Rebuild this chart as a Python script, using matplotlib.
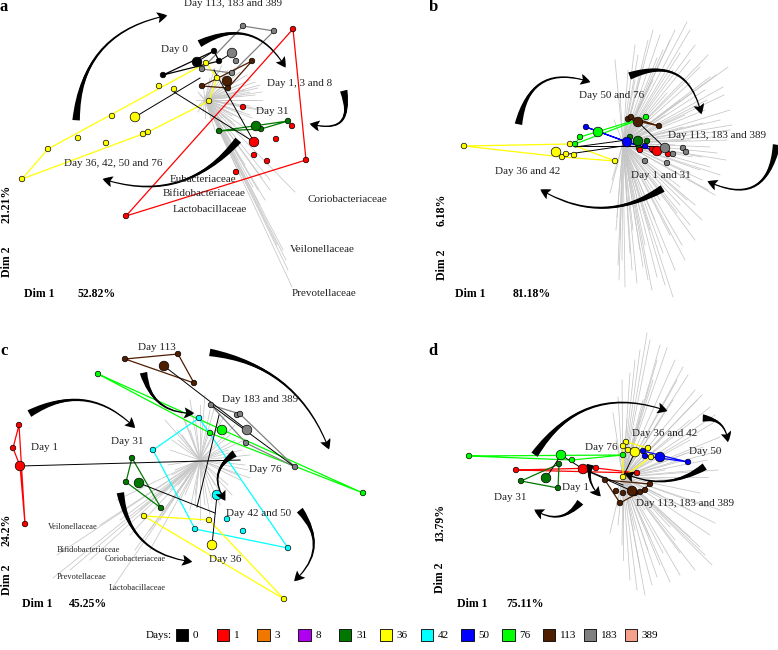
import numpy as np
import matplotlib.pyplot as plt
from matplotlib.patches import FancyArrowPatch

plt.rcParams['font.family'] = ['Liberation Serif', 'DejaVu Serif']

days = ['0', '1', '3', '8', '31', '36', '42', '50', '76', '113', '183', '389']
day_colors = ['#000000', '#ff0000', '#f07800', '#b000f0', '#007800', '#ffff00',
              '#00ffff', '#0000ff', '#00ff00', '#4d1e00', '#808080', '#f4a08a']
col = dict(zip(days, day_colors))

# ---------------- panel a ----------------
a_center = (205, 100)
a_loadings = [(295, 192), (292, 287), (277, 245), (283, 250), (253, 187), (258, 190),
              (262, 178), (245, 165), (238, 160), (270, 180), (250, 140), (240, 175),
              (255, 95), (258, 88), (250, 80), (240, 72), (228, 70), (218, 72), (210, 78),
              (203, 85), (200, 95), (199, 105), (203, 112), (212, 116), (222, 118),
              (232, 116), (242, 112), (250, 106), (256, 100), (262, 92), (245, 90),
              (238, 85), (232, 80), (225, 88), (236, 104), (228, 112), (244, 120),
              (235, 125), (226, 128), (218, 124), (260, 85), (252, 118), (230, 140),
              (222, 135), (248, 130), (215, 130), (215, 68), (222, 65), (235, 68), (247, 75),
              (255, 82), (262, 100), (258, 110), (250, 115), (240, 118), (232, 122),
              (222, 122), (212, 120), (205, 118), (198, 112), (196, 100), (198, 92),
              (212, 88), (220, 95), (230, 100), (242, 96), (250, 92), (265, 110), (270, 190),
              (286, 260), (288, 270), (265, 200), (260, 205)]
a_points = [('0', 197, 62, 1), ('0', 214, 51, 0), ('0', 219, 61, 0), ('0', 163, 75, 0),
            ('183', 232, 53, 1), ('183', 243, 26, 0), ('183', 274, 31, 0), ('183', 236, 61, 0),
            ('183', 202, 69, 0), ('183', 232, 73, 0),
            ('113', 227, 81, 1), ('113', 252, 61, 0), ('113', 202, 86, 0), ('113', 228, 88, 0),
            ('36', 135, 117, 1), ('36', 206, 63, 0), ('36', 217, 78, 0), ('36', 209, 101, 0),
            ('36', 159, 86, 0), ('36', 174, 89, 0), ('36', 112, 116, 0), ('36', 78, 138, 0),
            ('36', 106, 143, 0), ('36', 143, 134, 0), ('36', 148, 132, 0), ('36', 48, 149, 0),
            ('36', 22, 179, 0),
            ('1', 254, 142, 1), ('1', 243, 107, 0), ('1', 292, 126, 0), ('1', 276, 139, 0),
            ('1', 254, 155, 0), ('1', 267, 161, 0), ('1', 236, 172, 0), ('1', 293, 29, 0),
            ('1', 306, 160, 0), ('1', 126, 216, 0),
            ('31', 256, 126, 1), ('31', 288, 121, 0), ('31', 261, 129, 0), ('31', 219, 131, 0)]
a_hulls = [('36', [(22, 179), (48, 149), (206, 63), (217, 78), (209, 101), (148, 132)]),
           ('1', [(293, 29), (306, 160), (126, 216)]),
           ('183', [(202, 69), (243, 26), (274, 31), (232, 73)]),
           ('0', [(163, 75), (214, 51), (219, 61)]),
           ('113', [(202, 86), (252, 61), (228, 88)]),
           ('31', [(219, 131), (288, 121), (261, 129)])]
a_links = [((135, 117), (200, 78)), ((174, 92), (254, 142)), ((214, 70), (254, 142)),
           ((197, 62), (214, 51)), ((232, 53), (219, 61))]
a_arrows = [((76, 123), (170, 15), -0.4), ((197, 45), (287, 70), -0.5),
            ((343, 88), (307, 123), -0.9), ((240, 138), (100, 178), -0.35)]
a_texts = [('Day 113, 183 and 389', 233, 3, 8), ('Day 0', 174, 49, 8),
           ('Day 1, 3 and 8', 300, 84, 8), ('Day 31', 272, 111, 8),
           ('Day 36, 42, 50 and 76', 113, 163, 8), ('Eubacteriaceae', 203, 179, 8),
           ('Bifidobacteriaceae', 204, 194, 8), ('Lactobacillaceae', 210, 210, 8),
           ('Coriobacteriaceae', 347, 200, 8), ('Veilonellaceae', 322, 250, 8),
           ('Prevotellaceae', 324, 293, 8)]
a_dims = [('21.21%', 7, 204, 90), ('Dim 2', 7, 262, 90), ('Dim 1', 39, 294, 0), ('52.82%', 97, 294, 0)]

# ---------------- panel b ----------------
b_center = (233, 143)
b_loadings = [(297, 22), (245, 45), (253, 67), (267, 58), (290, 53), (310, 67), (338, 67),
              (320, 77), (333, 87), (300, 83), (283, 70), (273, 50), (263, 80), (317, 100),
              (340, 110), (330, 120), (313, 123), (323, 137), (337, 140), (327, 153),
              (312, 157), (320, 167), (300, 173), (312, 180), (290, 187), (297, 200),
              (312, 220), (287, 213), (283, 297), (273, 253), (267, 277), (253, 267),
              (247, 283), (235, 287), (240, 253), (230, 240), (220, 193), (227, 217),
              (245, 80), (257, 90), (290, 100), (277, 93), (293, 127), (320, 147),
              (302, 157), (263, 30), (280, 40), (305, 45), (225, 60), (305, 240),
              (295, 260), (260, 230), (250, 210), (270, 200), (280, 235), (285, 30),
              (315, 90), (325, 195), (262, 290), (242, 270), (275, 115), (300, 140),
              (300, 30), (318, 55), (326, 75), (334, 95), (342, 125), (336, 160), (330, 175),
              (318, 190), (305, 205), (300, 225), (292, 245), (285, 270), (275, 285),
              (258, 280), (250, 250), (243, 230), (238, 210), (232, 260), (229, 280),
              (248, 55), (258, 40), (270, 35), (300, 60), (315, 110), (340, 130), (305, 130),
              (295, 115), (285, 145), (310, 170), (290, 205), (265, 220), (255, 245),
              (228, 265), (226, 230), (222, 180), (224, 120), (230, 95), (238, 70)]
b_points = [('36', 166, 152, 1), ('36', 74, 146, 0), ('36', 180, 144, 0), ('36', 172, 157, 0),
            ('36', 176, 154, 0), ('36', 184, 155, 0), ('36', 225, 161, 0),
            ('76', 208, 132, 1), ('76', 190, 137, 0), ('76', 185, 144, 0), ('76', 256, 117, 0),
            ('50', 237, 142, 1), ('50', 196, 127, 0), ('50', 255, 146, 0), ('50', 263, 150, 0),
            ('31', 248, 141, 1), ('31', 240, 137, 0), ('31', 257, 141, 0), ('31', 249, 148, 0),
            ('113', 248, 122, 1), ('113', 238, 119, 0), ('113', 241, 117, 0), ('113', 269, 126, 0),
            ('1', 267, 151, 1), ('1', 250, 150, 0), ('1', 278, 154, 0), ('1', 262, 149, 0),
            ('183', 275, 148, 1), ('183', 293, 148, 0), ('183', 296, 152, 0), ('183', 283, 154, 0),
            ('183', 255, 161, 0), ('183', 277, 163, 0)]
b_hulls = [('36', [(74, 146), (180, 144), (225, 161), (172, 157)]),
           ('76', [(185, 144), (256, 117), (190, 137)]),
           ('50', [(196, 127), (237, 142), (263, 150), (237, 142)]),
           ('113', [(238, 119), (269, 126), (241, 117)])]
b_links = [((185, 147), (237, 140)), ((172, 155), (240, 145)), ((184, 146), (267, 146)),
           ((248, 122), (275, 148))]
b_arrows = [((128, 127), (203, 83), -0.6), ((237, 77), (312, 117), -0.6),
            ((387, 142), (315, 180), -0.7), ((275, 187), (148, 188), -0.32)]
b_texts = [('Day 50 and 76', 222, 96, 8), ('Day 113, 183 and 389', 327, 135, 8),
           ('Day 36 and 42', 138, 172, 8), ('Day 1 and 31', 271, 176, 8)]
b_dims = [('6.18%', 52, 210, 90), ('Dim 2', 52, 265, 90), ('Dim 1', 80, 294, 0), ('81.18%', 142, 294, 0)]

# ---------------- panel c ----------------
c_center = (200, 140)
c_loadings = [(53, 258), (57, 235), (117, 180), (111, 270), (100, 205), (150, 230),
              (120, 200), (165, 100), (177, 110), (180, 90), (190, 80), (205, 75),
              (215, 85), (225, 95), (235, 105), (245, 120), (250, 135), (248, 150),
              (240, 160), (250, 158), (232, 175), (220, 185), (210, 195), (200, 200),
              (190, 190), (180, 180), (170, 170), (178, 120), (185, 100), (200, 85),
              (210, 110), (228, 130), (215, 165), (195, 175), (240, 140), (230, 115),
              (185, 160), (175, 150), (170, 130), (160, 175), (140, 190), (130, 215),
              (190, 110), (195, 95), (210, 90), (220, 100), (235, 120), (242, 130),
              (245, 145), (238, 155), (228, 165), (222, 175), (212, 180), (205, 185),
              (195, 185), (185, 175), (178, 165), (172, 155), (168, 145), (172, 120),
              (182, 115), (160, 200), (150, 210), (135, 230), (90, 240), (70, 250)]
c_points = [('113', 164, 46, 1), ('113', 125, 39, 0), ('113', 178, 34, 0), ('113', 194, 63, 0),
            ('76', 222, 110, 1), ('76', 98, 54, 0), ('76', 210, 113, 0), ('76', 363, 173, 0),
            ('183', 247, 110, 1), ('183', 211, 85, 0), ('183', 237, 95, 0), ('183', 240, 94, 0),
            ('183', 246, 123, 0), ('183', 295, 147, 0),
            ('42', 217, 175, 1), ('42', 199, 98, 0), ('42', 153, 130, 0), ('42', 227, 199, 0),
            ('42', 243, 211, 0), ('42', 195, 209, 0), ('42', 288, 228, 0),
            ('1', 20, 146, 1), ('1', 19, 105, 0), ('1', 13, 128, 0), ('1', 25, 204, 0),
            ('31', 139, 163, 1), ('31', 132, 138, 0), ('31', 126, 162, 0), ('31', 161, 188, 0),
            ('36', 212, 225, 1), ('36', 144, 196, 0), ('36', 209, 200, 0), ('36', 284, 279, 0)]
c_hulls = [('113', [(125, 39), (178, 34), (194, 63)]),
           ('76', [(98, 54), (363, 173), (210, 113)]),
           ('183', [(211, 85), (240, 94), (295, 147), (246, 123)]),
           ('42', [(153, 130), (199, 98), (288, 228), (195, 209)]),
           ('1', [(19, 105), (13, 128), (20, 146), (25, 204)]),
           ('31', [(132, 138), (161, 188), (126, 162)]),
           ('36', [(144, 196), (209, 200), (284, 279)])]
c_links = [((20, 146), (240, 140)), ((139, 163), (215, 193)), ((164, 46), (247, 110)),
           ((219, 95), (197, 187)), ((211, 85), (295, 147)), ((212, 225), (217, 175))]
c_arrows = [((27, 95), (137, 110), -0.4), ((143, 50), (197, 93), 0.45),
            ((207, 32), (330, 132), -0.3), ((237, 132), (227, 183), 0.55),
            ((120, 170), (195, 242), 0.4), ((298, 188), (292, 263), -0.5)]
c_texts = [('Day 113', 157, 27, 8), ('Day 183 and 389', 260, 80, 8), ('Day 1', 45, 127, 8),
           ('Day 31', 127, 121, 8), ('Day 76', 265, 150, 8), ('Day 42 and 50', 259, 193, 8),
           ('Day 36', 225, 239, 8), ('Veilonellaceae', 73, 207, 6),
           ('Bifidobacteriaceae', 88, 230, 6), ('Coriobacteriaceae', 135, 239, 6),
           ('Prevotellaceae', 82, 257, 6), ('Lactobacillaceae', 137, 268, 6)]
c_dims = [('24.2%', 7, 210, 90), ('Dim 2', 7, 260, 90), ('Dim 1', 37, 284, 0), ('45.25%', 88, 284, 0)]

# ---------------- panel d ----------------
d_center = (233, 157)
d_loadings = [(257, 13), (277, 28), (228, 77), (293, 47), (305, 70), (320, 87), (328, 100),
              (330, 117), (325, 203), (322, 245), (247, 270), (233, 240), (267, 257),
              (290, 233), (310, 227), (287, 187), (317, 187), (240, 53), (263, 60),
              (283, 80), (253, 80), (300, 100), (313, 127), (318, 157), (310, 173),
              (227, 187), (220, 213), (233, 200), (260, 217), (280, 207), (270, 100),
              (297, 133), (237, 100), (223, 93), (250, 30), (267, 40), (287, 60),
              (307, 80), (317, 140), (250, 247), (273, 233), (300, 217), (245, 120),
              (290, 160), (255, 190), (270, 175), (260, 20), (270, 25), (285, 40),
              (298, 55), (312, 75), (325, 95), (332, 130), (328, 150), (330, 190),
              (320, 215), (315, 235), (305, 250), (290, 255), (280, 262), (262, 265),
              (255, 275), (240, 260), (232, 225), (228, 205), (225, 175), (226, 120),
              (232, 60), (245, 40), (300, 120), (308, 150), (300, 190), (285, 220),
              (270, 245), (258, 230), (245, 210), (290, 140), (275, 150), (265, 130),
              (280, 110), (250, 100), (240, 140)]
d_points = [('76', 171, 135, 1), ('76', 79, 136, 0), ('76', 182, 140, 0), ('76', 233, 135, 0),
            ('1', 193, 149, 1), ('1', 126, 150, 0), ('1', 206, 148, 0), ('1', 247, 153, 0),
            ('31', 156, 158, 1), ('31', 169, 144, 0), ('31', 131, 161, 0), ('31', 168, 168, 0),
            ('36', 245, 132, 1), ('36', 236, 122, 0), ('36', 238, 130, 0), ('36', 233, 126, 0),
            ('36', 258, 128, 0), ('36', 261, 137, 0), ('36', 233, 157, 0),
            ('50', 270, 137, 1), ('50', 253, 131, 0), ('50', 255, 136, 0), ('50', 298, 142, 0),
            ('113', 242, 171, 1), ('113', 215, 160, 0), ('113', 226, 171, 0), ('113', 230, 183, 0),
            ('113', 250, 172, 0), ('113', 255, 170, 0), ('113', 260, 164, 0), ('113', 233, 173, 0),
            ('113', 245, 173, 0)]
d_hulls = [('76', [(79, 136), (233, 135), (182, 140)]),
           ('1', [(126, 150), (247, 153), (206, 148)]),
           ('31', [(169, 144), (168, 168), (131, 161)]),
           ('36', [(236, 122), (258, 128), (261, 137), (233, 157), (233, 126)]),
           ('50', [(253, 131), (298, 142), (255, 136)]),
           ('113', [(215, 160), (260, 164), (250, 172), (230, 183)])]
d_links = [((171, 135), (193, 149)), ((193, 149), (233, 165)), ((233, 157), (245, 132)),
           ((156, 158), (171, 135)), ((193, 149), (242, 171))]
d_arrows = [((143, 137), (280, 92), -0.4), ((310, 98), (338, 125), -0.5),
            ((317, 145), (232, 152), -0.3), ((201, 142), (213, 178), 0.35),
            ((192, 180), (142, 188), -0.5)]
d_texts = [('Day 36 and 42', 275, 113, 8), ('Day 76', 211, 127, 8), ('Day 50', 315, 132, 8),
           ('Day 1', 185, 167, 8), ('Day 31', 120, 178, 8), ('Day 113, 183 and 389', 295, 183, 8)]
d_dims = [('13.79%', 50, 203, 90), ('Dim 2', 50, 258, 90), ('Dim 1', 82, 284, 0), ('75.11%', 135, 284, 0)]


def draw_panel(rect, w, h, letter, letter_xy, center, loadings, hulls, links, points,
               arrows, texts, dims):
    ax = fig.add_axes(rect)
    ax.set_xlim(0, w)
    ax.set_ylim(h, 0)
    ax.axis('off')
    for ex, ey in loadings:
        ax.plot([center[0], ex], [center[1], ey], color='#c6c6c6', lw=0.55, zorder=1)
    for d, pts in hulls:
        xs = [p[0] for p in pts] + [pts[0][0]]
        ys = [p[1] for p in pts] + [pts[0][1]]
        ax.plot(xs, ys, color=col[d], lw=0.9, zorder=2)
    for (x0, y0), (x1, y1) in links:
        ax.plot([x0, x1], [y0, y1], color='black', lw=0.7, zorder=2)
    small = [p for p in points if not p[3]]
    big = [p for p in points if p[3]]
    ax.scatter([p[1] for p in small], [p[2] for p in small], s=16,
               c=[col[p[0]] for p in small], edgecolors='black', linewidths=0.5, zorder=3)
    ax.scatter([p[1] for p in big], [p[2] for p in big], s=48,
               c=[col[p[0]] for p in big], edgecolors='black', linewidths=0.5, zorder=4)
    for p0, p1, rad in arrows:
        cs = f'arc3,rad={rad}'
        # thick tail end, thin middle
        ax.add_patch(FancyArrowPatch(p0, p1, connectionstyle=cs,
                                     arrowstyle='wedge,tail_width=0.45,shrink_factor=0.12',
                                     mutation_scale=12, color='black', lw=0, zorder=5))
        # thin middle, arrow head at the end
        ax.add_patch(FancyArrowPatch(p0, p1, connectionstyle=cs,
                                     arrowstyle='fancy,head_length=0.6,head_width=0.65,tail_width=0.22',
                                     mutation_scale=12, color='black', lw=0, zorder=5))
    for t, x, y, fs in texts:
        ax.text(x, y, t, fontsize=fs, ha='center', va='center', color='#222222', zorder=6,
                clip_on=False)
    for t, x, y, rot in dims:
        ax.text(x, y, t, fontsize=8.5, fontweight='bold', ha='center', va='center',
                rotation=rot, zorder=6)
    ax.text(letter_xy[0], letter_xy[1], letter, fontsize=12, fontweight='bold',
            ha='center', va='center')
    return ax


fig = plt.figure(figsize=(7.78, 6.5), dpi=100)
W, H = 778.0, 650.0
draw_panel([0, 330 / H, 390 / W, 320 / H], 390, 320, 'a', (4, 7), a_center, a_loadings,
           a_hulls, a_links, a_points, a_arrows, a_texts, a_dims)
draw_panel([390 / W, 330 / H, 388 / W, 320 / H], 388, 320, 'b', (43, 7), b_center, b_loadings,
           b_hulls, b_links, b_points, b_arrows, b_texts, b_dims)
draw_panel([0, 30 / H, 390 / W, 300 / H], 390, 300, 'c', (4, 31), c_center, c_loadings,
           c_hulls, c_links, c_points, c_arrows, c_texts, c_dims)
draw_panel([390 / W, 30 / H, 388 / W, 300 / H], 388, 300, 'd', (43, 31), d_center, d_loadings,
           d_hulls, d_links, d_points, d_arrows, d_texts, d_dims)

# legend row
lax = fig.add_axes([0, 0, 1, 30 / H])
lax.set_xlim(0, W)
lax.set_ylim(30, 0)
lax.axis('off')
lx = 182 + 40.8 * np.arange(len(days))
ly = np.full(len(days), 15.0)
lax.scatter(lx, ly, marker='s', s=78, c=day_colors, edgecolors='black', linewidths=0.6)
for x, lab in zip(lx, days):
    lax.text(x + 11, 15, lab, fontsize=8, ha='left', va='center')
lax.text(172, 15, 'Days:', fontsize=8, ha='right', va='center')

fig.savefig('out.png', dpi=100)
